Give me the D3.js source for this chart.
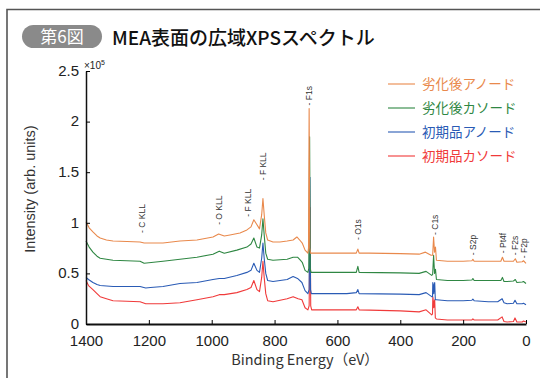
<!DOCTYPE html>
<html>
<head>
<meta charset="utf-8">
<script src="https://cdn.jsdelivr.net/npm/d3@7"></script>
<style>
body { margin: 0; background: #fff; }
svg { display: block; font-family: "Liberation Sans", Arial, sans-serif; }
.jp { font-family: "Noto Sans CJK JP", "Noto Sans", sans-serif; }
</style>
</head>
<body>
<svg id="chart"></svg>
<script>
// spectra: [binding energy (eV), intensity (x10^5)]
var redCathode = [[1400,0.43],[1392,0.38],[1378,0.34],[1365,0.30],[1355,0.27],[1335,0.25],[1314,0.23],[1270,0.225],[1228,0.22],[1210,0.20],[1195,0.20],[1155,0.20],[1101,0.21],[1047,0.24],[996,0.27],[976,0.29],[960,0.29],[920,0.31],[888,0.34],[875,0.36],[866,0.43],[856,0.34],[848,0.32],[841,0.46],[837,0.62],[833,0.46],[828,0.30],[822,0.23],[805,0.22],[760,0.25],[741,0.27],[725,0.25],[713,0.24],[703,0.16],[694,0.14],[690,0.18],[687,1.15],[685,0.18],[682,0.14],[620,0.14],[570,0.14],[540,0.14],[535,0.17],[531,0.14],[400,0.13],[340,0.12],[318,0.14],[300,0.09],[297.5,0.10],[296.5,0.27],[294.5,0.22],[293.5,0.16],[291.5,0.22],[290.5,0.24],[288.5,0.06],[285,0.05],[250,0.04],[200,0.04],[172,0.04],[169,0.05],[165,0.04],[120,0.04],[90,0.04],[76,0.07],[70,0.025],[60,0.02],[40,0.025],[35,0.06],[29,0.02],[12,0.02],[8,0.03],[0,0.02]];
var blueAnode = [[1400,0.46],[1392,0.44],[1378,0.41],[1365,0.39],[1355,0.38],[1314,0.37],[1270,0.37],[1228,0.37],[1210,0.355],[1195,0.36],[1155,0.37],[1101,0.40],[1047,0.41],[996,0.44],[976,0.45],[960,0.45],[920,0.48],[888,0.51],[875,0.53],[866,0.60],[856,0.53],[848,0.51],[841,0.65],[837,0.80],[833,0.65],[828,0.50],[822,0.43],[805,0.42],[760,0.44],[741,0.47],[727,0.45],[713,0.41],[703,0.33],[694,0.30],[690,0.34],[687.5,1.45],[685.5,0.34],[683,0.30],[620,0.30],[570,0.30],[540,0.31],[535,0.34],[531,0.30],[400,0.295],[340,0.29],[318,0.31],[300,0.27],[297.5,0.27],[296.5,0.41],[294.5,0.38],[293.5,0.30],[291.5,0.39],[290.5,0.41],[288.5,0.24],[285,0.24],[250,0.23],[200,0.23],[172,0.235],[169,0.245],[165,0.23],[120,0.22],[90,0.22],[76,0.25],[70,0.21],[60,0.20],[40,0.205],[35,0.235],[29,0.20],[12,0.20],[8,0.205],[0,0.19]];
var greenCathode = [[1400,0.82],[1390,0.76],[1378,0.71],[1365,0.67],[1355,0.65],[1335,0.64],[1314,0.63],[1270,0.625],[1228,0.62],[1215,0.60],[1200,0.605],[1155,0.62],[1101,0.64],[1047,0.66],[996,0.69],[976,0.72],[960,0.70],[920,0.73],[888,0.76],[875,0.79],[866,0.85],[856,0.76],[848,0.75],[841,0.88],[837,1.04],[833,0.88],[828,0.70],[822,0.64],[805,0.63],[760,0.64],[741,0.66],[727,0.66],[718,0.63],[712,0.61],[703,0.53],[694,0.51],[691,0.55],[688.5,1.85],[686.5,0.55],[684,0.51],[620,0.51],[570,0.51],[540,0.51],[535,0.57],[531,0.51],[400,0.505],[340,0.50],[318,0.52],[300,0.48],[297,0.49],[294,0.68],[291,0.50],[288,0.54],[285,0.44],[250,0.43],[200,0.43],[172,0.435],[169,0.45],[165,0.43],[120,0.43],[80,0.43],[75,0.46],[70,0.42],[60,0.42],[40,0.425],[34,0.44],[29,0.41],[12,0.415],[8,0.42],[0,0.40]];
var orangeAnode = [[1400,1.01],[1390,0.95],[1378,0.91],[1365,0.87],[1355,0.85],[1335,0.83],[1314,0.82],[1270,0.815],[1228,0.81],[1215,0.80],[1200,0.80],[1155,0.80],[1101,0.82],[1047,0.83],[996,0.86],[978,0.89],[960,0.87],[942,0.88],[910,0.90],[888,0.93],[875,0.96],[866,1.03],[856,0.98],[848,0.94],[841,1.08],[837,1.24],[833,1.08],[828,0.90],[822,0.83],[805,0.81],[783,0.81],[760,0.82],[741,0.83],[729,0.86],[720,0.83],[712,0.80],[703,0.73],[694,0.70],[692,0.75],[690,2.13],[688,0.75],[686,0.70],[678,0.70],[620,0.70],[570,0.70],[540,0.70],[535,0.74],[531,0.70],[500,0.70],[400,0.695],[340,0.69],[320,0.71],[302,0.68],[297,0.68],[294,0.86],[291,0.71],[288,0.76],[285,0.63],[250,0.62],[200,0.62],[172,0.625],[169,0.64],[165,0.62],[120,0.62],[80,0.62],[75,0.66],[70,0.62],[60,0.62],[40,0.62],[34,0.645],[29,0.61],[12,0.615],[8,0.625],[0,0.60]];

var seriesNames = ["劣化後アノード", "劣化後カソード", "初期品アノード", "初期品カソード"];
var seriesColors = ["#e9894c", "#2f8743", "#2a5bb5", "#f03a3a"];
var seriesData = [orangeAnode, greenCathode, blueAnode, redCathode];

var peakNames = ["- C KLL", "- O KLL", "- F KLL", "- F KLL", "- F1s", "- O1s", "- C1s", "- S2p", "- Pt4f", "- F2s", "- F2p"];
var peakEnergy = [1222, 976, 884, 836, 689, 533, 290, 170, 74, 35, 5];
var peakLevel = [0.90, 0.98, 1.06, 1.42, 2.16, 0.83, 0.88, 0.68, 0.70, 0.68, 0.65];

var xTicks = [1400, 1200, 1000, 800, 600, 400, 200, 0];
var yTicks = [0, 0.5, 1, 1.5, 2, 2.5];

var w = 540;
var h = 378;

var svg = d3.select("#chart")
	.attr("width", w)
	.attr("height", h);

// frame
svg.append("path")
	.attr("d", "M7,378 L7,9.5 L540,9.5")
	.attr("fill", "none")
	.attr("stroke", "#555")
	.attr("stroke-width", 1.6);

// title
svg.append("rect")
	.attr("x", 22)
	.attr("y", 25)
	.attr("width", 80)
	.attr("height", 23)
	.attr("rx", 11.5)
	.attr("fill", "#8a8a8a");
svg.append("text")
	.attr("class", "jp")
	.attr("x", 62)
	.attr("y", 43)
	.attr("text-anchor", "middle")
	.attr("font-size", 17)
	.attr("fill", "#fff")
	.text("第6図");
svg.append("text")
	.attr("class", "jp")
	.attr("x", 112)
	.attr("y", 44.5)
	.attr("font-size", 19)
	.attr("font-weight", 500)
	.attr("fill", "#111")
	.text("MEA表面の広域XPSスペクトル");

var xScale = d3.scaleLinear()
	.domain([1400, 0])
	.range([86, 526]);
var yScale = d3.scaleLinear()
	.domain([0, 2.5])
	.range([324, 71]);

var line = d3.line()
	.x(function (d) {
		return xScale(d[0]);
	})
	.y(function (d) {
		return yScale(d[1]);
	});

// draw bottom series first so the orange one sits on top
for (var i = seriesData.length - 1; i >= 0; i--) {
	svg.append("path")
		.datum(seriesData[i])
		.attr("d", line)
		.attr("fill", "none")
		.attr("stroke", seriesColors[i])
		.attr("stroke-width", 1.1)
		.attr("stroke-linejoin", "round");
}

var xAxis = d3.axisBottom(xScale)
	.tickValues(xTicks)
	.tickFormat(d3.format("d"))
	.tickSizeInner(-4)
	.tickSizeOuter(0)
	.tickPadding(11);
var yAxis = d3.axisLeft(yScale)
	.tickValues(yTicks)
	.tickFormat(function (d) { return String(d); })
	.tickSizeInner(-4)
	.tickSizeOuter(0)
	.tickPadding(7);

var gx = svg.append("g")
	.attr("transform", "translate(0,324)")
	.call(xAxis);
gx.select(".domain").attr("stroke-width", 2).attr("stroke", "#111");
gx.selectAll("text").attr("font-size", 15).attr("fill", "#222").attr("font-family", "Liberation Sans, Arial, sans-serif");

var gy = svg.append("g")
	.attr("transform", "translate(86,0)")
	.call(yAxis);
gy.select(".domain").attr("stroke-width", 1.5).attr("stroke", "#111");
gy.selectAll("text").attr("font-size", 15).attr("dy", "0.28em").attr("fill", "#222").attr("font-family", "Liberation Sans, Arial, sans-serif");

// exponent
var ex = svg.append("text")
	.attr("x", 84)
	.attr("y", 69)
	.attr("font-size", 10)
	.attr("fill", "#222");
ex.append("tspan").text("×10");
ex.append("tspan").attr("dy", -4).attr("font-size", 7).text("5");

// axis titles
svg.append("text")
	.attr("transform", "translate(35,189) rotate(-90)")
	.attr("text-anchor", "middle")
	.attr("font-size", 14.5)
	.attr("fill", "#333")
	.text("Intensity (arb. units)");
svg.append("text")
	.attr("class", "jp")
	.attr("x", 305)
	.attr("y", 365)
	.attr("text-anchor", "middle")
	.attr("font-size", 14.5)
	.attr("fill", "#333")
	.text("Binding Energy（eV）");

// peak labels
svg.selectAll(".peak")
	.data(peakNames)
	.enter()
	.append("text")
	.attr("class", "peak")
	.attr("transform", function (d, i) {
		return "translate(" + xScale(peakEnergy[i]) + "," + yScale(peakLevel[i]) + ") rotate(-90)";
	})
	.attr("dy", "0.35em")
	.attr("font-size", 8.5)
	.attr("fill", "#333")
	.text(function (d) { return d; });

// legend
var legend = svg.selectAll(".legend")
	.data(seriesNames)
	.enter()
	.append("g")
	.attr("class", "legend")
	.attr("transform", function (d, i) {
		return "translate(388," + (84 + i * 24) + ")";
	});
legend.append("line")
	.attr("x1", 0)
	.attr("x2", 27)
	.attr("stroke", function (d, i) { return seriesColors[i]; })
	.attr("stroke-width", 1.1);
legend.append("text")
	.attr("class", "jp")
	.attr("x", 34)
	.attr("dy", "0.36em")
	.attr("font-size", 13.5)
	.attr("fill", function (d, i) { return seriesColors[i]; })
	.text(function (d) { return d; });
</script>
</body>
</html>
